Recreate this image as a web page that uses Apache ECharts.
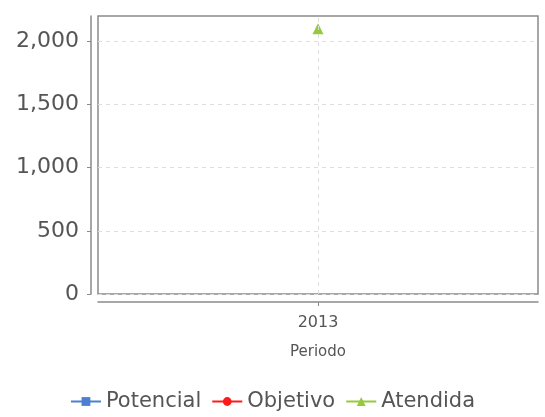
<!DOCTYPE html>
<html>
<head>
<meta charset="utf-8">
<script src="https://cdn.jsdelivr.net/npm/echarts@6/dist/echarts.min.js"></script>
<style>
  html, body { margin: 0; padding: 0; background: #fff; }
  #chart { width: 545px; height: 417px; }
</style>
</head>
<body>
<div id="chart"></div>
<script>
var periods = ['2013'];
var potencial = [null];
var objetivo = [null];
var atendida = [2100];
var yTicks = [0, 500, 1000, 1500, 2000];

var colors = ['#4a7fd1', '#ff1a1a', '#96c93d'];
var font = 'DejaVu Sans';

var chart = echarts.init(document.getElementById('chart'));
chart.setOption({
    animation: false,
    color: colors,
    textStyle: { fontFamily: font },
    grid: {
        left: 98, right: 7, top: 16, bottom: 123,
        show: true,
        borderColor: '#8a8a8a',
        borderWidth: 1.5,
        backgroundColor: '#fff'
    },
    legend: {
        bottom: 0,
        left: 'center',
        itemWidth: 30,
        itemHeight: 11,
        itemGap: 10,
        textStyle: { fontSize: 21, color: '#555', fontFamily: font },
        data: ['Potencial', 'Objetivo', 'Atendida']
    },
    xAxis: {
        type: 'category',
        data: periods,
        offset: 8,
        name: 'Periodo',
        nameLocation: 'middle',
        nameGap: 43,
        nameTextStyle: { fontSize: 15, color: '#555', fontFamily: font },
        axisLine: { show: true, onZero: false, lineStyle: { color: '#8a8a8a', width: 1.5 } },
        axisTick: { show: true, alignWithLabel: true, length: 4, lineStyle: { color: '#8a8a8a' } },
        axisLabel: { fontSize: 16, color: '#555', margin: 13 },
        splitLine: { show: false }
    },
    yAxis: {
        type: 'value',
        min: 0,
        max: 2200,
        interval: 500,
        offset: 7,
        axisLine: { show: true, lineStyle: { color: '#8a8a8a', width: 1.5 } },
        axisTick: { show: true, length: 4, lineStyle: { color: '#8a8a8a' } },
        axisLabel: {
            fontSize: 22,
            color: '#555',
            margin: 12,
            showMaxLabel: false,
            formatter: function (v) {
                return yTicks.indexOf(v) >= 0 ? v.toLocaleString('en-US') : '';
            }
        },
        splitLine: {
            lineStyle: { color: '#ddd', type: [4, 4] },
            showMaxLine: false
        }
    },
    series: [
        { name: 'Potencial', type: 'line', data: potencial, symbol: 'rect', symbolSize: 9 },
        { name: 'Objetivo', type: 'line', data: objetivo, symbol: 'circle', symbolSize: 9 },
        {
            name: 'Atendida', type: 'line', data: atendida, symbol: 'triangle', symbolSize: 11,
            markLine: {
                silent: true,
                symbol: 'none',
                label: { show: false },
                lineStyle: { color: '#ddd', type: [4, 4], width: 1 },
                data: [{ xAxis: periods[0] }]
            }
        }
    ]
});
</script>
</body>
</html>
